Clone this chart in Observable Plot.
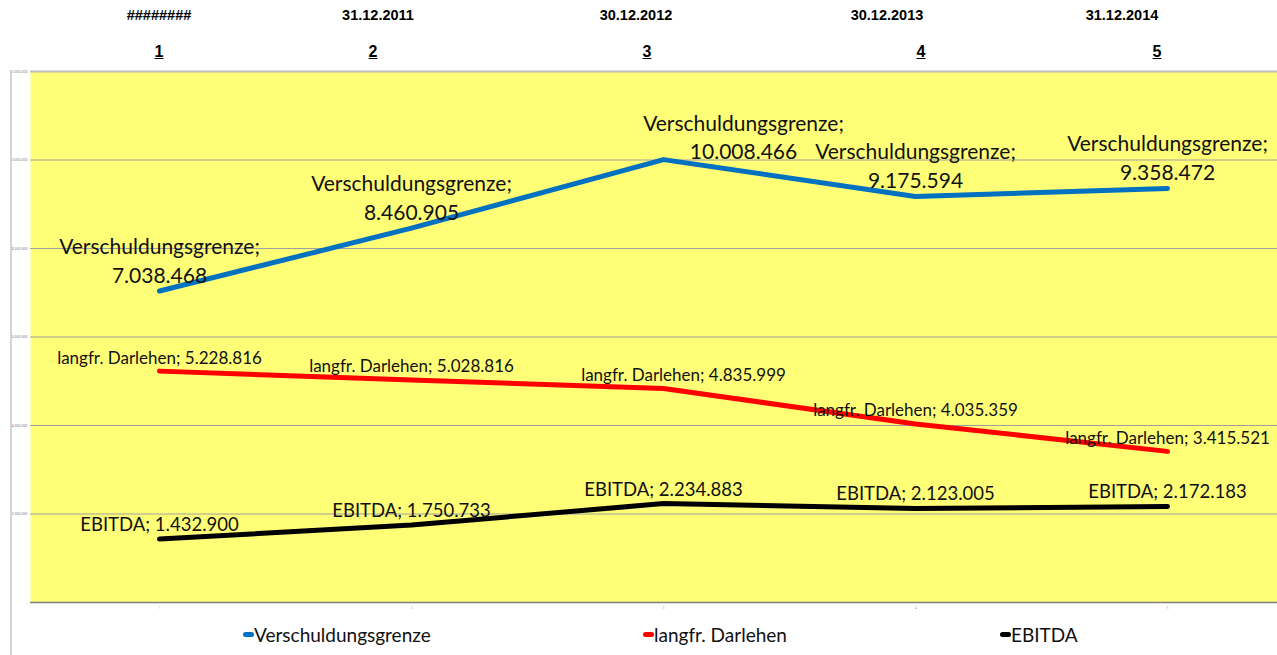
<!DOCTYPE html>
<html>
<head>
<meta charset="utf-8">
<script src="https://cdn.jsdelivr.net/npm/d3@7"></script>
<script src="https://cdn.jsdelivr.net/npm/@observablehq/plot@0.6"></script>
<style>
  body { margin: 0; background: #fff; }
  #wrap { position: relative; width: 1277px; height: 655px; overflow: hidden; }
  #head { position: relative; height: 70px; font-family: "Liberation Sans", Arial, sans-serif; font-weight: bold; color: #000; }
  #head .d { position: absolute; top: 7px; font-size: 14.5px; transform: translateX(-50%); white-space: nowrap; }
  #head .n { position: absolute; top: 43px; font-size: 16px; text-decoration: underline; transform: translateX(-50%); }
  #border { position: absolute; left: 10px; top: 70px; width: 2px; height: 585px; background: #d4d4d4; }
  #legend { position: relative; height: 40px; font-family: Lato, "Open Sans", sans-serif; font-size: 19px; color: #111; }
  #legend .item { position: absolute; top: 8px; display: flex; align-items: center; white-space: nowrap; }
  #legend .sw { display: inline-block; width: 11px; height: 5px; border-radius: 3px; }
  #chart svg { display: block; }
</style>
</head>
<body>
<div id="wrap">
  <div id="head"></div>
  <div id="chart"></div>
  <div id="legend"></div>
  <div id="border"></div>
</div>
<script>
// ---- data ----
const categories = [1, 2, 3, 4, 5];
const dateLabels = ["########", "31.12.2011", "30.12.2012", "30.12.2013", "31.12.2014"];
const verschuldungsgrenze = [7038468, 8460905, 10008466, 9175594, 9358472];
const langfrDarlehen = [5228816, 5028816, 4835999, 4035359, 3415521];
const ebitda = [1432900, 1750733, 2234883, 2123005, 2172183];
const yTicks = [0, 2000000, 4000000, 6000000, 8000000, 10000000, 12000000];
const seriesNames = ["Verschuldungsgrenze", "langfr. Darlehen", "EBITDA"];

// ---- layout (not data) ----
const colors = ["#0070c0", "#ff0000", "#000000"];
const datePos = [159, 378, 636, 887, 1122];
const numPos = [159, 373, 647, 921, 1157];
const legendPos = [243, 643, 1000];
const labelFont = "Lato, 'Open Sans', sans-serif";

const de = d3.formatLocale({decimal: ",", thousands: ".", grouping: [3], currency: ["", "€"]});
const fmt = de.format(",d");

const rows = (vals, name) => categories.map((c, i) => ({cat: c, value: vals[i], name}));
const vRows = rows(verschuldungsgrenze, seriesNames[0]);
const dRows = rows(langfrDarlehen, seriesNames[1]);
const eRows = rows(ebitda, seriesNames[2]);

// header
const head = document.getElementById("head");
dateLabels.forEach((t, i) => {
  const d = document.createElement("div"); d.className = "d"; d.style.left = datePos[i] + "px"; d.textContent = t; head.appendChild(d);
  const n = document.createElement("div"); n.className = "n"; n.style.left = numPos[i] + "px"; n.textContent = categories[i]; head.appendChild(n);
});

const lineOpts = {x: "cat", y: "value", strokeWidth: 5, strokeLinecap: "round", strokeLinejoin: "round"};
const txt = {x: "cat", y: "value", fontFamily: labelFont, fill: "#111"};

const chart = Plot.plot({
  width: 1277,
  height: 545,
  marginLeft: 30,
  marginRight: 0,
  marginTop: 1,
  marginBottom: 13,
  style: {background: "transparent", overflow: "visible"},
  x: {type: "point", domain: categories, range: [158, 1168], padding: 0},
  y: {domain: [0, 12000000]},
  marks: [
    Plot.frame({fill: "#ffff77", stroke: null}),
    Plot.gridY(yTicks.slice(1, 6), {stroke: "#a0a0a0", strokeOpacity: 1}),
    Plot.ruleY([12000000], {stroke: "#bdbdbd", strokeWidth: 2}),
    Plot.ruleY([0], {stroke: "#7f7f7f", strokeWidth: 1.5}),
    Plot.axisY(yTicks, {tickSize: 0, tickPadding: 3, fontSize: 3.5, fill: "#777", label: null,
      tickFormat: d => d === 0 ? "-" : fmt(d)}),
    Plot.axisX(categories, {tickSize: 0, tickPadding: 4, fontSize: 3, fill: "#999", label: null}),
    Plot.line(vRows, {...lineOpts, stroke: colors[0]}),
    Plot.line(dRows, {...lineOpts, stroke: colors[1]}),
    Plot.line(eRows, {...lineOpts, stroke: colors[2]}),
    // Verschuldungsgrenze labels
    Plot.text(vRows.filter(d => d.cat !== 3), {...txt, text: d => d.name + ";", dy: -44, fontSize: 21}),
    Plot.text(vRows.filter(d => d.cat !== 3), {...txt, text: d => fmt(d.value), dy: -15, fontSize: 21}),
    Plot.text(vRows.filter(d => d.cat === 3), {...txt, text: d => d.name + ";", dx: 80, dy: -35, fontSize: 21}),
    Plot.text(vRows.filter(d => d.cat === 3), {...txt, text: d => fmt(d.value), dx: 80, dy: -7, fontSize: 21}),
    // langfr. Darlehen labels
    Plot.text(dRows.filter(d => d.cat !== 3), {...txt, text: d => d.name + "; " + fmt(d.value), dy: -13, fontSize: 17}),
    Plot.text(dRows.filter(d => d.cat === 3), {...txt, text: d => d.name + "; " + fmt(d.value), dx: 20, dy: -13, fontSize: 17}),
    // EBITDA labels
    Plot.text(eRows, {...txt, text: d => d.name + "; " + fmt(d.value), dy: -14, fontSize: 18.5})
  ]
});
document.getElementById("chart").appendChild(chart);

// legend
const legend = document.getElementById("legend");
seriesNames.forEach((name, i) => {
  const it = document.createElement("div"); it.className = "item"; it.style.left = legendPos[i] + "px";
  const sw = document.createElement("span"); sw.className = "sw"; sw.style.background = colors[i];
  const t = document.createElement("span"); t.textContent = name;
  it.appendChild(sw); it.appendChild(t); legend.appendChild(it);
});
</script>
</body>
</html>
